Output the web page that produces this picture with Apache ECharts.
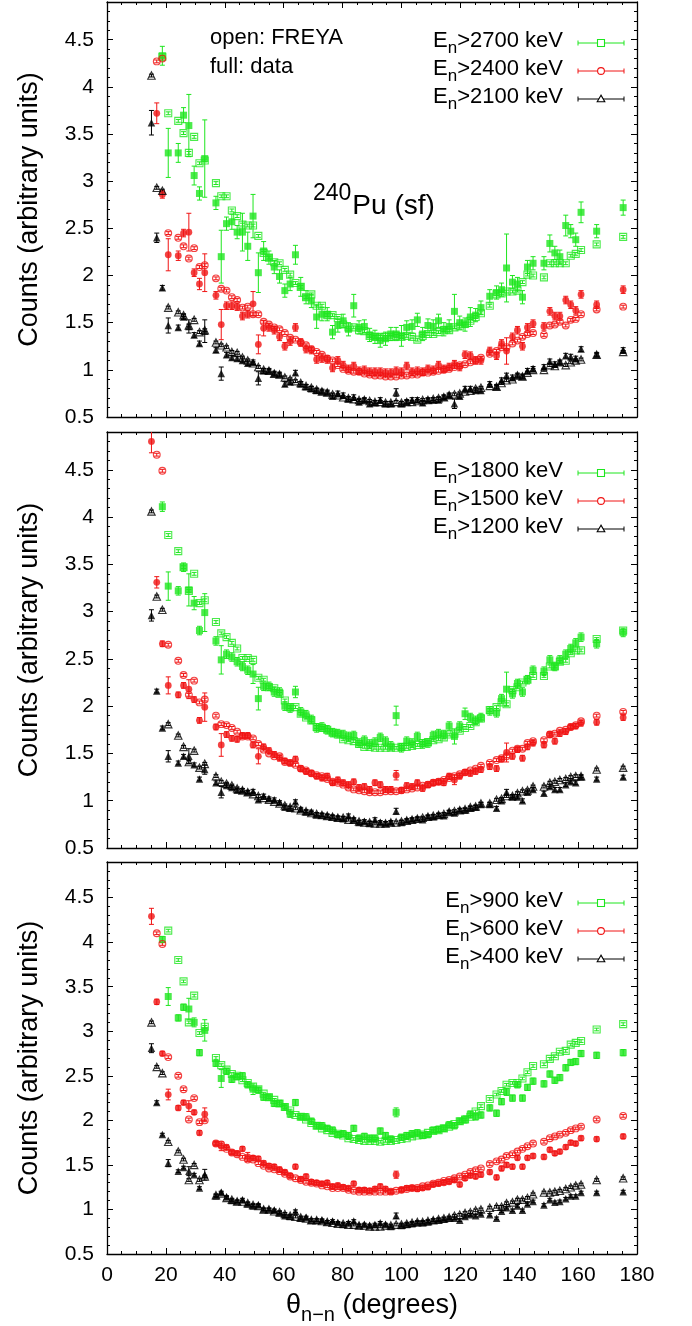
<!DOCTYPE html>
<html>
<head>
<meta charset="utf-8">
<script src="https://cdn.jsdelivr.net/npm/echarts@6/dist/echarts.min.js"></script>
<style>
html, body { margin: 0; padding: 0; background: #fff; }
#c { width: 692px; height: 1326px; }
</style>
</head>
<body>
<div id="c"></div>
<script>
// angle bins (degrees)
var theta = [15.1, 16.9, 18.8, 20.8, 24.2, 26.0, 27.8, 29.6, 31.4, 33.2,
  37, 38.8, 40.6, 42.4, 44.2, 46, 47.8, 49.6, 51.4, 53.2, 55, 56.8, 58.6, 60.4, 62.2, 64, 65.8, 67.6, 69.4, 71.2, 73, 74.8, 76.6, 78.4,
  80.2, 82, 83.8, 85.6, 87.4, 89.2, 91, 92.8, 94.6, 96.4, 98.2, 100, 101.8, 103.6, 105.4, 107.2, 109, 110.8, 112.6, 114.4, 116.2, 118, 119.8, 121.6, 123.4, 125.2, 127,
  130, 132.3, 134, 135.7, 137.7, 139.4, 141.1, 142.8, 144.7, 148.4, 150.4, 152.1, 153.8, 155.8, 157.5, 159.2, 161, 166.3, 175.3];

// ---- top panel: 2700 / 2400 / 2100 keV
var p1GreenFreya = [null,null,4.32,3.72,3.64,3.51,3.30,3.47,3.19,3.22,
  2.98,2.84,2.84,2.69,2.63,2.54,2.53,2.53,2.42,2.24,2.19,2.14,2.13,2.06,2.01,1.92,1.88,1.77,1.80,1.68,1.68,1.58,1.58,1.55,
  1.48,1.45,1.45,1.42,1.41,1.36,1.35,1.35,1.35,1.35,1.36,1.35,1.36,1.35,1.32,1.36,1.38,1.38,1.40,1.42,1.42,1.45,1.46,1.49,1.52,1.56,1.60,
  1.68,1.80,1.81,1.83,1.83,1.84,1.93,2.01,2.00,1.98,2.13,2.13,2.13,2.13,2.21,2.23,2.27,2.33,2.41];
var p1GreenData = [null,null,4.33,3.30,3.30,3.70,3.59,3.06,2.87,3.24,
  2.77,2.20,2.55,2.57,2.46,2.46,2.31,2.63,2.03,2.26,2.19,2.09,1.99,1.84,1.91,2.22,1.88,1.77,1.73,1.56,1.59,1.59,1.40,1.47,
  1.52,1.43,1.68,1.45,1.46,1.37,1.35,1.31,1.33,1.38,1.38,1.36,1.45,1.46,1.53,1.38,1.47,1.46,1.52,1.43,1.46,1.62,1.50,1.48,1.56,1.58,1.66,
  1.78,1.82,1.85,2.08,1.93,1.91,1.77,2.09,2.13,2.13,2.34,2.24,2.20,2.53,2.47,2.38,2.67,2.47,2.72];
var p1RedFreya = [null,4.27,4.30,2.45,2.40,2.31,2.18,2.29,2.09,2.11,
  1.97,1.86,1.84,1.77,1.74,1.66,1.67,1.59,1.59,1.51,1.48,1.45,1.43,1.39,1.34,1.32,1.29,1.26,1.22,1.19,1.16,1.12,1.10,1.05,
  1.01,0.99,0.98,0.98,0.96,0.95,0.94,0.94,0.93,0.93,0.93,0.94,0.94,0.95,0.95,0.97,0.97,0.98,0.99,1.00,1.01,1.03,1.05,1.06,1.08,1.10,1.13,
  1.17,1.20,1.24,1.24,1.28,1.31,1.35,1.38,1.39,1.37,1.47,1.48,1.51,1.47,1.53,1.54,1.59,1.64,1.67];
var p1RedData = [null,3.72,2.86,2.22,2.21,2.45,2.46,2.03,1.91,2.03,
  1.79,1.48,1.68,1.68,1.67,1.57,1.59,1.70,1.27,1.44,1.45,1.42,1.35,1.25,1.30,1.45,1.29,1.22,1.21,1.11,1.12,1.11,1.02,1.10,
  1.05,1.01,1.04,0.99,1.00,0.98,0.98,0.98,0.97,0.97,0.99,0.98,1.04,0.98,0.99,0.98,1.01,1.00,1.05,1.01,1.03,1.06,1.03,1.16,1.15,1.10,1.10,
  1.20,1.15,1.28,1.20,1.35,1.42,1.25,1.45,1.49,1.46,1.62,1.57,1.57,1.74,1.69,1.63,1.80,1.69,1.85];
var p1BlackFreya = [4.12,2.93,2.90,1.66,1.61,1.58,1.47,1.53,1.40,1.42,
  1.29,1.26,1.24,1.19,1.18,1.13,1.10,1.07,1.03,1.00,0.99,0.96,0.95,0.92,0.90,0.88,0.86,0.83,0.81,0.79,0.77,0.76,0.74,0.73,
  0.71,0.70,0.69,0.68,0.68,0.67,0.66,0.66,0.65,0.65,0.66,0.65,0.66,0.66,0.67,0.68,0.68,0.69,0.70,0.71,0.73,0.74,0.75,0.77,0.78,0.80,0.81,
  0.83,0.82,0.86,0.89,0.90,0.94,0.93,0.97,1.00,1.00,1.05,1.04,1.08,1.05,1.08,1.10,1.11,1.16,1.19];
var p1BlackData = [3.62,2.40,1.87,1.47,1.45,1.56,1.46,1.37,1.28,1.41,
  1.21,0.96,1.16,1.13,1.12,1.10,1.07,1.08,0.91,0.99,0.99,0.96,0.95,0.85,0.87,0.97,0.85,0.82,0.80,0.78,0.77,0.76,0.72,0.75,
  0.73,0.69,0.71,0.66,0.68,0.64,0.65,0.68,0.64,0.64,0.76,0.64,0.66,0.68,0.68,0.65,0.68,0.68,0.68,0.71,0.73,0.64,0.72,0.80,0.80,0.78,0.78,
  0.85,0.82,0.89,0.94,0.92,0.94,0.93,0.99,1.01,1.03,1.09,1.06,1.08,1.15,1.14,1.12,1.22,1.16,1.21];
var p1GreenErr = {2:0.1, 3:0.26, 4:0.1, 5:0.08, 6:0.33, 7:0.1, 9:0.41, 11:0.28, 13:0.08, 15:0.2, 16:0.15, 17:0.23, 18:0.21, 19:0.1, 25:0.1, 26:0.1, 29:0.12, 36:0.12, 45:0.11, 55:0.18, 58:0.1, 64:0.36, 71:0.09, 74:0.11, 77:0.11, 79:0.08};
var p1RedErr = {1:0.11, 3:0.17, 4:0.05, 6:0.2, 8:0.06, 9:0.2, 11:0.16, 17:0.13, 18:0.1, 19:0.08, 64:0.14};
var p1BlackErr = {0:0.13, 1:0.05, 3:0.08, 6:0.07, 9:0.12, 11:0.07, 18:0.07, 44:0.04, 55:0.05};

// ---- middle panel: 1800 / 1500 / 1200 keV
var p2GreenFreya = [null,null,null,3.81,3.64,3.47,3.22,3.40,3.09,3.12,
  2.89,2.77,2.73,2.67,2.61,2.51,2.51,2.49,2.30,2.28,2.20,2.19,2.13,2.06,1.99,1.99,1.92,1.88,1.85,1.78,1.77,1.75,1.72,1.70,
  1.65,1.64,1.63,1.60,1.57,1.57,1.56,1.56,1.56,1.56,1.56,1.57,1.57,1.58,1.59,1.61,1.62,1.64,1.65,1.67,1.70,1.71,1.74,1.77,1.79,1.83,1.87,
  1.96,1.99,2.04,2.02,2.17,2.20,2.25,2.28,2.32,2.32,2.42,2.42,2.47,2.48,2.56,2.59,2.59,2.71,2.80];
var p2GreenData = [null,null,4.11,3.27,3.22,3.47,3.23,3.09,2.80,2.99,
  2.69,2.49,2.55,2.52,2.47,2.42,2.38,2.34,2.08,2.21,2.21,2.15,2.15,2.00,1.98,2.15,1.94,1.91,1.86,1.77,1.78,1.75,1.72,1.71,
  1.70,1.68,1.69,1.61,1.64,1.60,1.62,1.67,1.63,1.58,1.90,1.56,1.63,1.61,1.68,1.60,1.61,1.69,1.71,1.70,1.79,1.68,1.79,1.92,1.88,1.85,1.88,
  1.95,1.93,2.08,2.18,2.13,2.24,2.15,2.28,2.38,2.37,2.49,2.42,2.49,2.55,2.61,2.67,2.73,2.66,2.78];
var p2RedFreya = [null,4.66,4.49,2.65,2.48,2.33,2.12,2.27,2.04,2.07,
  1.90,1.81,1.80,1.77,1.73,1.68,1.68,1.66,1.60,1.54,1.50,1.47,1.47,1.41,1.40,1.38,1.34,1.32,1.29,1.27,1.26,1.23,1.20,1.19,
  1.17,1.14,1.12,1.11,1.10,1.09,1.09,1.09,1.10,1.10,1.10,1.11,1.12,1.13,1.14,1.16,1.17,1.19,1.20,1.22,1.24,1.26,1.28,1.30,1.32,1.34,1.37,
  1.40,1.43,1.45,1.47,1.53,1.55,1.55,1.61,1.63,1.64,1.70,1.71,1.74,1.75,1.78,1.80,1.84,1.90,1.94];
var p2RedData = [4.80,3.31,2.66,2.22,2.12,2.22,2.18,2.07,1.85,1.99,
  1.78,1.59,1.70,1.66,1.65,1.69,1.69,1.59,1.47,1.57,1.53,1.49,1.45,1.42,1.40,1.44,1.34,1.31,1.29,1.26,1.24,1.26,1.19,1.22,
  1.19,1.17,1.20,1.14,1.15,1.12,1.19,1.17,1.12,1.12,1.27,1.11,1.16,1.15,1.19,1.13,1.17,1.19,1.20,1.19,1.26,1.22,1.26,1.30,1.29,1.31,1.33,
  1.36,1.34,1.44,1.51,1.47,1.54,1.45,1.57,1.61,1.59,1.70,1.63,1.71,1.73,1.78,1.79,1.82,1.83,1.88];
var p2BlackFreya = [4.06,3.16,3.02,1.81,1.69,1.57,1.41,1.53,1.35,1.39,
  1.26,1.20,1.18,1.16,1.13,1.11,1.09,1.07,1.05,1.03,1.01,0.99,0.97,0.95,0.93,0.92,0.90,0.89,0.87,0.86,0.85,0.84,0.83,0.82,
  0.82,0.80,0.80,0.78,0.77,0.77,0.76,0.76,0.76,0.77,0.77,0.78,0.79,0.80,0.81,0.82,0.83,0.84,0.85,0.86,0.88,0.89,0.90,0.91,0.93,0.94,0.97,
  0.97,1.01,1.02,1.05,1.05,1.08,1.10,1.11,1.15,1.15,1.19,1.20,1.22,1.23,1.25,1.26,1.26,1.33,1.35];
var p2BlackData = [2.96,2.16,1.77,1.47,1.40,1.47,1.47,1.38,1.23,1.33,
  1.19,1.09,1.16,1.14,1.11,1.11,1.09,1.10,1.01,1.05,1.02,1.01,0.98,0.93,0.92,0.99,0.91,0.88,0.88,0.85,0.85,0.84,0.83,0.82,
  0.81,0.84,0.80,0.77,0.78,0.76,0.80,0.77,0.76,0.77,0.89,0.77,0.79,0.80,0.81,0.80,0.83,0.83,0.85,0.84,0.88,0.87,0.90,0.90,0.92,0.93,0.96,
  0.96,0.92,1.00,1.09,1.04,1.04,1.00,1.09,1.12,1.08,1.15,1.12,1.12,1.17,1.20,1.19,1.25,1.23,1.25];
var p2GreenErr = {2:0.05, 3:0.15, 6:0.17, 7:0.07, 9:0.2, 11:0.15, 17:0.1, 18:0.12, 25:0.06, 44:0.1, 55:0.08, 57:0.06, 64:0.18};
var p2RedErr = {0:0.12, 1:0.06, 3:0.09, 6:0.1, 9:0.15, 11:0.12, 18:0.08, 44:0.05, 55:0.05, 64:0.1};
var p2BlackErr = {0:0.06, 3:0.06, 6:0.08, 9:0.05, 11:0.06, 44:0.03, 64:0.03};

// ---- bottom panel: 900 / 600 / 400 keV
var p3GreenFreya = [null,null,null,4.13,3.80,3.56,3.10,3.40,2.98,3.05,
  2.70,2.62,2.57,2.52,2.50,2.45,2.42,2.38,2.35,2.30,2.26,2.23,2.19,2.15,2.11,2.06,2.04,2.01,1.97,1.94,1.91,1.89,1.86,1.85,
  1.83,1.80,1.79,1.78,1.77,1.77,1.77,1.76,1.77,1.77,1.78,1.79,1.80,1.82,1.83,1.84,1.86,1.88,1.89,1.91,1.93,1.96,1.99,2.01,2.04,2.10,2.16,
  2.24,2.29,2.33,2.40,2.42,2.42,2.47,2.54,2.61,2.63,2.69,2.72,2.77,2.78,2.85,2.87,2.89,3.02,3.08];
var p3GreenData = [null,null,4.03,3.39,3.15,3.27,3.25,3.10,2.76,3.01,
  2.64,2.47,2.55,2.46,2.49,2.50,2.40,2.35,2.34,2.26,2.26,2.19,2.19,2.15,2.07,2.20,2.04,2.04,1.99,1.94,1.94,1.91,1.89,1.84,
  1.85,1.83,1.91,1.80,1.82,1.80,1.80,1.88,1.83,1.79,2.09,1.81,1.83,1.85,1.86,1.83,1.84,1.89,1.90,1.91,1.95,1.94,1.99,2.01,2.07,2.04,2.06,
  2.14,2.08,2.21,2.32,2.25,2.40,2.25,2.37,2.44,2.41,2.52,2.45,2.48,2.59,2.65,2.66,2.75,2.73,2.76];
var p3RedFreya = [null,4.10,3.98,2.71,2.50,2.35,2.01,2.25,1.98,2.00,
  1.74,1.73,1.68,1.64,1.62,1.59,1.56,1.56,1.52,1.49,1.46,1.45,1.43,1.40,1.37,1.35,1.33,1.31,1.30,1.29,1.27,1.26,1.24,1.24,
  1.24,1.22,1.21,1.20,1.20,1.20,1.20,1.20,1.20,1.20,1.21,1.22,1.23,1.24,1.24,1.26,1.27,1.29,1.30,1.32,1.33,1.35,1.37,1.39,1.42,1.44,1.46,
  1.51,1.54,1.56,1.60,1.62,1.65,1.68,1.71,1.74,1.76,1.80,1.82,1.84,1.86,1.89,1.91,1.93,2.01,2.05];
var p3RedData = [4.29,3.33,2.75,2.29,2.14,2.20,2.16,2.09,1.86,2.07,
  1.74,1.71,1.70,1.64,1.63,1.68,1.59,1.58,1.57,1.52,1.49,1.48,1.45,1.42,1.38,1.48,1.34,1.37,1.31,1.30,1.29,1.30,1.26,1.27,
  1.25,1.24,1.29,1.22,1.22,1.21,1.23,1.26,1.23,1.20,1.39,1.22,1.24,1.24,1.23,1.24,1.25,1.28,1.29,1.30,1.31,1.33,1.28,1.35,1.38,1.37,1.39,
  1.42,1.36,1.46,1.50,1.48,1.58,1.48,1.58,1.60,1.59,1.67,1.63,1.65,1.70,1.75,1.74,1.80,1.79,1.82];
var p3BlackFreya = [3.10,2.60,2.53,1.76,1.65,1.56,1.33,1.50,1.33,1.37,
  1.16,1.18,1.13,1.11,1.09,1.09,1.07,1.05,1.04,1.00,1.00,0.98,0.97,0.95,0.93,0.92,0.91,0.90,0.88,0.88,0.87,0.86,0.85,0.84,
  0.84,0.83,0.83,0.82,0.82,0.81,0.81,0.81,0.82,0.82,0.83,0.83,0.84,0.85,0.86,0.86,0.87,0.88,0.89,0.90,0.91,0.93,0.94,0.96,0.97,0.99,1.00,
  1.02,1.03,1.03,1.07,1.08,1.11,1.11,1.13,1.17,1.19,1.19,1.20,1.21,1.23,1.25,1.27,1.28,1.33,1.35];
var p3BlackData = [2.81,2.20,1.84,1.52,1.43,1.47,1.43,1.39,1.24,1.39,
  1.15,1.19,1.14,1.10,1.09,1.11,1.06,1.04,1.05,1.00,1.00,0.99,0.96,0.93,0.92,0.98,0.90,0.91,0.88,0.88,0.88,0.86,0.87,0.85,
  0.83,0.85,0.87,0.82,0.83,0.82,0.83,0.85,0.83,0.81,0.93,0.82,0.83,0.84,0.85,0.85,0.86,0.88,0.88,0.89,0.90,0.90,0.88,0.92,0.94,0.93,0.95,
  0.94,0.90,0.98,1.02,0.99,1.04,0.99,1.06,1.09,1.05,1.11,1.08,1.09,1.12,1.15,1.15,1.19,1.19,1.20];
var p3GreenErr = {3:0.1, 6:0.12, 7:0.05, 9:0.12, 11:0.1, 17:0.06, 44:0.05, 57:0.04, 64:0.04};
var p3RedErr = {0:0.09, 1:0.03, 3:0.06, 6:0.06, 9:0.07, 11:0.05, 16:0.05, 44:0.04};
var p3BlackErr = {0:0.05, 1:0.02, 3:0.04, 6:0.05, 9:0.06, 44:0.03};

var legendP1 = ['2700', '2400', '2100'];
var legendP2 = ['1800', '1500', '1200'];
var legendP3 = ['900', '600', '400'];

var FONT = '"Liberation Sans", Arial, Helvetica, sans-serif';
var COLORS = ['#1ee61e', '#f01414', '#000000'];
var SYMBOLS = ['rect', 'circle', 'triangle'];
var FREYA_ERR = 0.015;

var panels = [
  { box: {left: 107, top: 2, width: 530, height: 415}, legend: legendP1,
    freya: [p1GreenFreya, p1RedFreya, p1BlackFreya], data: [p1GreenData, p1RedData, p1BlackData],
    err: [p1GreenErr, p1RedErr, p1BlackErr], base: [0.07, 0.04, 0.025] },
  { box: {left: 107, top: 432, width: 530, height: 416}, legend: legendP2,
    freya: [p2GreenFreya, p2RedFreya, p2BlackFreya], data: [p2GreenData, p2RedData, p2BlackData],
    err: [p2GreenErr, p2RedErr, p2BlackErr], base: [0.045, 0.03, 0.02] },
  { box: {left: 107, top: 862, width: 530, height: 392}, legend: legendP3,
    freya: [p3GreenFreya, p3RedFreya, p3BlackFreya], data: [p3GreenData, p3RedData, p3BlackData],
    err: [p3GreenErr, p3RedErr, p3BlackErr], base: [0.035, 0.025, 0.015] }
];

var chart = echarts.init(document.getElementById('c'));

var axisLineStyle = {color: '#000', width: 1.3};
var tickStyle = {color: '#000', width: 1};

function xAxisFor(g, pos, labels) {
  return {
    type: 'value', gridIndex: g, position: pos, min: 0, max: 180, interval: 20,
    axisLine: {show: true, onZero: false, lineStyle: axisLineStyle},
    axisTick: {show: true, inside: true, length: 6, lineStyle: tickStyle},
    minorTick: {show: true, splitNumber: 4, length: 3, lineStyle: tickStyle},
    axisLabel: {show: labels, color: '#000', fontSize: 21, fontFamily: FONT, margin: 11},
    splitLine: {show: false}, minorSplitLine: {show: false}
  };
}
function yAxisFor(g, pos, major, labels) {
  return {
    type: 'value', gridIndex: g, position: pos, min: 0.5, max: 4.9, interval: major ? 0.5 : 0.1,
    axisLine: {show: major, onZero: false, lineStyle: axisLineStyle},
    axisTick: {show: true, inside: true, length: major ? 6 : 3, lineStyle: tickStyle},
    axisLabel: {show: labels, showMaxLabel: false, color: '#000', fontSize: 21, fontFamily: FONT, margin: 13},
    splitLine: {show: false}
  };
}

function drawErr(params, api) {
  var x = api.value(0);
  var a = api.coord([x, api.value(1)]);
  var b = api.coord([x, api.value(2)]);
  var c = 2.5;
  var st = {stroke: api.visual('color'), lineWidth: 1};
  return {type: 'group', children: [
    {type: 'line', shape: {x1: a[0], y1: a[1], x2: b[0], y2: b[1]}, style: st},
    {type: 'line', shape: {x1: a[0] - c, y1: a[1], x2: a[0] + c, y2: a[1]}, style: st},
    {type: 'line', shape: {x1: b[0] - c, y1: b[1], x2: b[0] + c, y2: b[1]}, style: st}
  ]};
}

function errSeries(g, vals, base, over, color) {
  var d = [];
  vals.forEach(function (v, i) {
    if (v == null) return;
    var e = over[i] != null ? over[i] : base;
    d.push([theta[i], v - e, v + e]);
  });
  return {type: 'custom', xAxisIndex: 2 * g, yAxisIndex: 4 * g, data: d, z: 1, silent: true,
    clip: true, itemStyle: {color: color}, renderItem: drawErr, animation: false};
}

function markSeries(g, vals, sym, color, filled) {
  var d = [];
  vals.forEach(function (v, i) { if (v != null) d.push([theta[i], v]); });
  var size = sym === 'triangle' ? 7.5 : (sym === 'circle' ? 6.8 : 7);
  return {type: 'scatter', xAxisIndex: 2 * g, yAxisIndex: 4 * g, data: d, silent: true,
    symbol: sym, symbolSize: size,
    z: filled ? 2 : 3,
    itemStyle: filled ? {color: color} : {color: 'rgba(0,0,0,0)', borderColor: color, borderWidth: 1.1},
    animation: false};
}

var grids = [], xAxes = [], yAxes = [], series = [];
panels.forEach(function (p, g) {
  grids.push(p.box);
  xAxes.push(xAxisFor(g, 'bottom', g === 2));
  xAxes.push(xAxisFor(g, 'top', false));
  yAxes.push(yAxisFor(g, 'left', true, true));
  yAxes.push(yAxisFor(g, 'left', false, false));
  yAxes.push(yAxisFor(g, 'right', true, false));
  yAxes.push(yAxisFor(g, 'right', false, false));
  for (var j = 0; j < 3; j++) {
    series.push(errSeries(g, p.data[j], p.base[j], p.err[j], COLORS[j]));
    series.push(errSeries(g, p.freya[j], FREYA_ERR, {}, COLORS[j]));
    series.push(markSeries(g, p.data[j], SYMBOLS[j], COLORS[j], true));
    series.push(markSeries(g, p.freya[j], SYMBOLS[j], COLORS[j], false));
  }
});

// text helpers
var mctx = document.createElement('canvas').getContext('2d');
function tw(s, size) { mctx.font = size + 'px ' + FONT; return mctx.measureText(s).width; }
function txt(s, x, baseline, size, align) {
  return {type: 'text', x: x, y: baseline - 0.35 * size, silent: true,
    style: {text: s, fontSize: size, fontFamily: FONT, fill: '#000',
      align: align || 'left', textAlign: align || 'left', verticalAlign: 'middle', textVerticalAlign: 'middle'}};
}

var graphics = [];
panels.forEach(function (p, g) {
  var b = p.box;
  // y title
  graphics.push({type: 'text', x: 30, y: b.top + b.height / 2, rotation: Math.PI / 2, silent: true,
    style: {text: 'Counts (arbitrary units)', fontSize: 27, fontFamily: FONT, fill: '#000',
      align: 'center', textAlign: 'center', verticalAlign: 'middle', textVerticalAlign: 'middle'}});
  // legend
  for (var r = 0; r < 3; r++) {
    var ly = b.top + 41 + 28 * r;
    var base = ly + 6;
    var rest = '>' + p.legend[r] + ' keV';
    var wE = tw('E', 22), wn = tw('n', 17), wr = tw(rest, 22);
    var x0 = 563 - wE - wn - wr;
    graphics.push(txt('E', x0, base, 22));
    graphics.push(txt('n', x0 + wE, base + 5, 17));
    graphics.push(txt(rest, x0 + wE + wn, base, 22));
    var c = COLORS[r];
    var ls = {stroke: c, lineWidth: 1};
    graphics.push({type: 'line', silent: true, shape: {x1: 578, y1: ly, x2: 624, y2: ly}, style: ls});
    graphics.push({type: 'line', silent: true, shape: {x1: 578, y1: ly - 2.5, x2: 578, y2: ly + 2.5}, style: ls});
    graphics.push({type: 'line', silent: true, shape: {x1: 624, y1: ly - 2.5, x2: 624, y2: ly + 2.5}, style: ls});
    var ms = {fill: '#fff', stroke: c, lineWidth: 1.1};
    if (r === 0) graphics.push({type: 'rect', silent: true, shape: {x: 601 - 3.5, y: ly - 3.5, width: 7, height: 7}, style: ms});
    if (r === 1) graphics.push({type: 'circle', silent: true, shape: {cx: 601, cy: ly, r: 3.4}, style: ms});
    if (r === 2) graphics.push({type: 'polygon', silent: true, shape: {points: [[601, ly - 3.8], [597.2, ly + 2.8], [604.8, ly + 2.8]]}, style: ms});
  }
});

// annotations in top panel
graphics.push(txt('open: FREYA', 210, 46, 22));
graphics.push(txt('full: data', 210, 75, 22));
graphics.push(txt('240', 313, 201.5, 23));
graphics.push(txt('Pu (sf)', 313 + tw('240', 23) + 1, 216.5, 28));

// x title
(function () {
  var a = '\u03b8', s = 'n\u2212n', t = ' (degrees)';
  var wa = tw(a, 27), ws = tw(s, 20), wt = tw(t, 27);
  var x0 = 372 - (wa + ws + wt) / 2;
  graphics.push(txt(a, x0, 1315, 27));
  graphics.push(txt(s, x0 + wa, 1322, 20));
  graphics.push(txt(t, x0 + wa + ws, 1315, 27));
})();

chart.setOption({
  animation: false,
  backgroundColor: '#fff',
  grid: grids,
  xAxis: xAxes,
  yAxis: yAxes,
  series: series,
  graphic: {elements: graphics}
});
window.onresize = function () { chart.resize(); };
</script>
</body>
</html>
